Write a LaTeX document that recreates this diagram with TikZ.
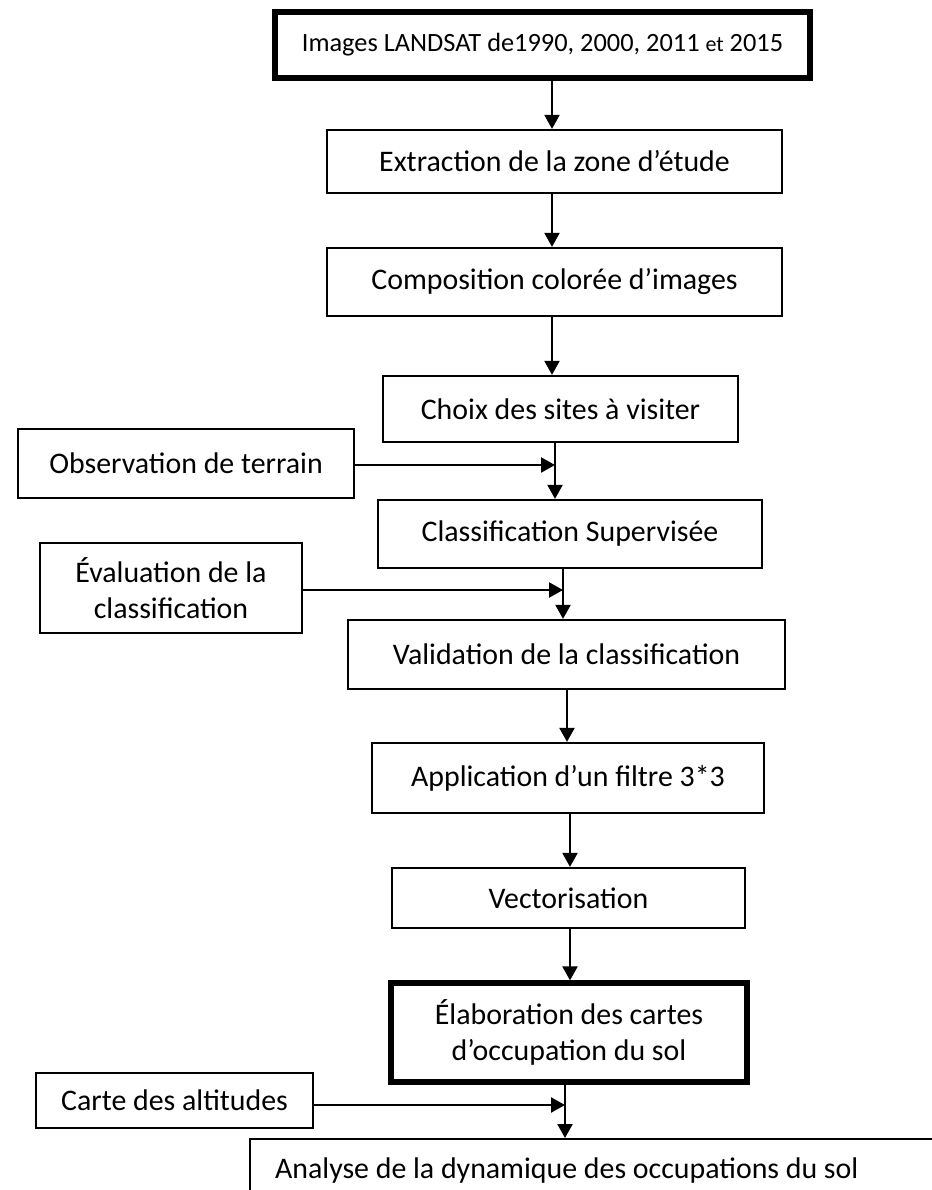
\documentclass[tikz,border=0pt]{standalone}
\usepackage{fontspec}
\setmainfont{Carlito}
\usetikzlibrary{arrows.meta}
\tikzstyle{flow_box}=[rectangle,
                      draw=black,
                      line width=1.3pt,
                      inner sep=0pt,
                      align=center,
                      font=\fontsize{17}{20.5}\selectfont, ]
\tikzstyle{flow_box_thick}=[flow_box,
                            line width=3pt, ]
\tikzstyle{flow_arrow}=[line width=1.3pt,
                        -{Triangle[length=0.28cm, width=0.30cm]}, ]

\begin{document}
\begin{tikzpicture}
    \useasboundingbox (0cm, 0cm) rectangle (18.64cm, -23.80cm);
    \clip (0cm, 0cm) rectangle (18.64cm, -23.80cm);

    % main chain
    \node at (10.85cm, -0.90cm) (landsat) [flow_box_thick, minimum width=10.70cm, minimum height=1.32cm,
                                          font=\fontsize{15}{18}\selectfont]
      {Images LANDSAT de1990, 2000, 2011 {\fontsize{12.5}{15}\selectfont et} 2015};
    \node at (11.09cm, -3.23cm) (extraction) [flow_box, minimum width=9.10cm, minimum height=1.26cm]
      {Extraction de la zone d’étude};
    \node at (11.09cm, -5.64cm) (composition) [flow_box, minimum width=9.10cm, minimum height=1.36cm]
      {Composition colorée d’images};
    \node at (11.21cm, -8.18cm) (choix) [flow_box, minimum width=7.10cm, minimum height=1.32cm]
      {Choix des sites à visiter};
    \node at (11.40cm, -10.68cm) (classif) [flow_box, minimum width=7.68cm, minimum height=1.36cm]
      {Classification Supervisée};
    \node at (11.33cm, -13.09cm) (validation) [flow_box, minimum width=8.74cm, minimum height=1.38cm]
      {Validation de la classification};
    \node at (11.36cm, -15.56cm) (filtre) [flow_box, minimum width=7.84cm, minimum height=1.40cm]
      {Application d’un filtre 3*3};
    \node at (11.37cm, -17.96cm) (vecto) [flow_box, minimum width=7.06cm, minimum height=1.20cm]
      {Vectorisation};
    \node at (11.38cm, -20.65cm) (cartes) [flow_box_thick, minimum width=7.12cm, minimum height=1.98cm]
      {Élaboration des cartes\\d’occupation du sol};
    \node at (4.98cm, -22.76cm) (analyse) [flow_box, anchor=north west, minimum width=16cm, minimum height=1.24cm,
                                           inner xsep=0.42cm, text width=15cm, align=flush left]
      {Analyse de la dynamique des occupations du sol};

    % side inputs
    \node at (3.72cm, -9.27cm) (terrain) [flow_box, minimum width=6.72cm, minimum height=1.38cm]
      {Observation de terrain};
    \node at (3.42cm, -11.76cm) (evaluation) [flow_box, minimum width=5.24cm, minimum height=1.80cm]
      {Évaluation de la\\classification};
    \node at (3.49cm, -22.01cm) (altitudes) [flow_box, minimum width=5.54cm, minimum height=1.10cm]
      {Carte des altitudes};

    % arrows
    \foreach \from/\to/\x in {landsat/extraction/11.04,
                              extraction/composition/11.04,
                              composition/choix/11.04,
                              choix/classif/11.10,
                              classif/validation/11.26,
                              validation/filtre/11.34,
                              filtre/vecto/11.40,
                              vecto/cartes/11.40,
                              cartes/analyse/11.30} {
      \coordinate (x_\from) at (\x cm, 0cm);
      \draw[flow_arrow] (\from.south -| x_\from) -- (\to.north -| x_\from);
    }

    \coordinate (in_terrain) at (11.10cm, -9.30cm);
    \coordinate (in_evaluation) at (11.26cm, -11.80cm);
    \coordinate (in_altitudes) at (11.30cm, -22.10cm);
    \draw[flow_arrow] (terrain.east |- in_terrain) -- (in_terrain);
    \draw[flow_arrow] (evaluation.east |- in_evaluation) -- (in_evaluation);
    \draw[flow_arrow] (altitudes.east |- in_altitudes) -- (in_altitudes);
\end{tikzpicture}
\end{document}
